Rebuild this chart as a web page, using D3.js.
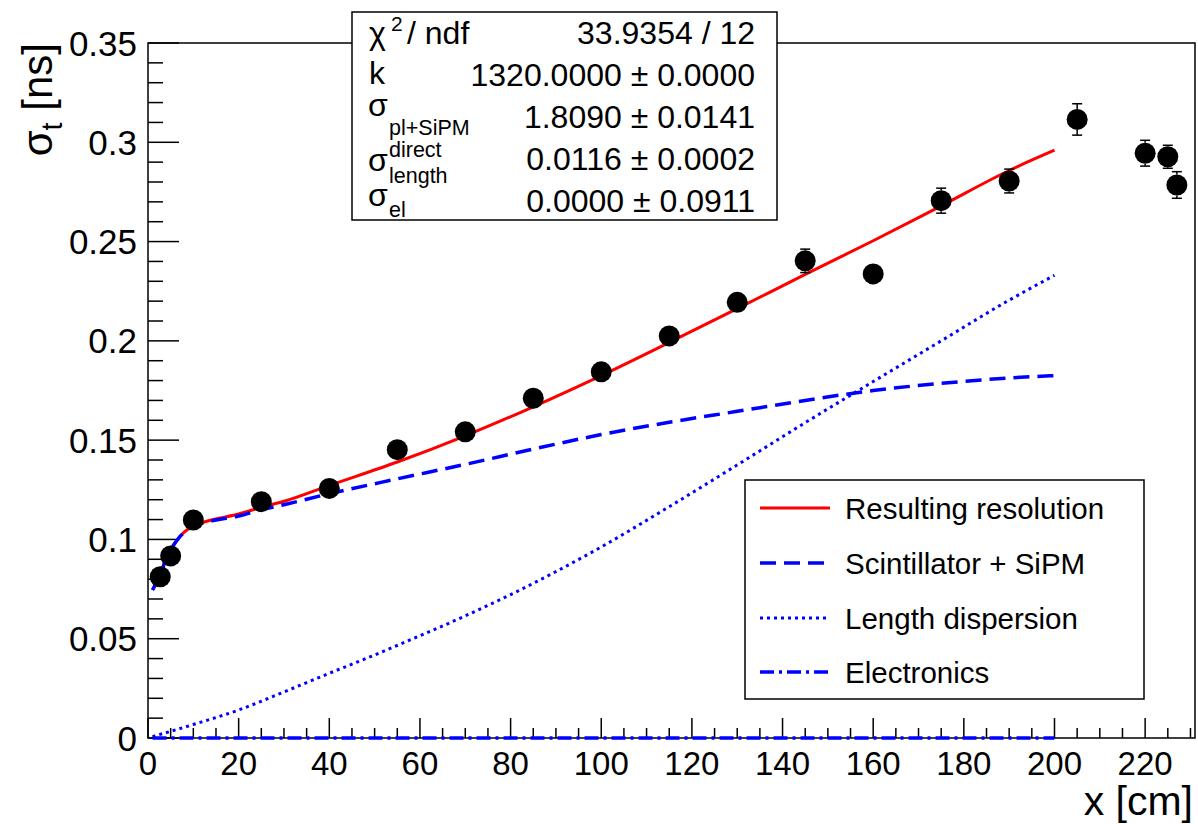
<!DOCTYPE html>
<html>
<head>
<meta charset="utf-8">
<script src="https://cdn.jsdelivr.net/npm/d3@7"></script>
<style>
  body { margin: 0; background: #fff; }
  svg { font-family: "Liberation Sans", Arial, Helvetica, sans-serif; }
</style>
</head>
<body>
<svg id="chart" width="1198" height="824"></svg>
<script>
// measured points
const pointX = [2.7, 5, 10, 25, 40, 55, 70, 85, 100, 115, 130, 145, 160, 175, 190, 205, 220, 225, 227];
const pointY = [0.0812, 0.0917, 0.1098, 0.119, 0.1257, 0.1452, 0.1542, 0.1711, 0.1844, 0.2025, 0.2194, 0.2403, 0.2337, 0.2706, 0.2805, 0.3115, 0.2945, 0.2927, 0.2785];
const pointErr = [0.003, 0.003, 0.003, 0.003, 0.003, 0.004, 0.004, 0.004, 0.004, 0.004, 0.004, 0.0059, 0.004, 0.0063, 0.006, 0.0079, 0.0065, 0.0058, 0.0067];

// fit curves
const fitX = [1, 2, 3, 4, 5, 7, 9, 12, 15, 20, 25, 30, 40, 55, 70, 85, 100, 115, 130, 145, 160, 175, 190, 200];
const resTotal = [0.0745, 0.079, 0.084, 0.0905, 0.0948, 0.1014, 0.1055, 0.1085, 0.1103, 0.1128, 0.1162, 0.1192, 0.1272, 0.139, 0.1522, 0.1668, 0.1825, 0.1992, 0.2162, 0.2335, 0.2504, 0.268, 0.2858, 0.296];
const resScint = [0.0745, 0.079, 0.084, 0.0905, 0.0948, 0.1013, 0.1053, 0.1083, 0.1098, 0.1118, 0.115, 0.1175, 0.123, 0.1305, 0.1378, 0.1455, 0.1528, 0.159, 0.1645, 0.17, 0.175, 0.1786, 0.1813, 0.1825];
const lenX = [1, 10, 20, 30, 40, 50, 60, 70, 80, 90, 100, 115, 130, 145, 160, 175, 190, 200];
const resLength = [0.0007, 0.0068, 0.0141, 0.0232, 0.0326, 0.0418, 0.0515, 0.0615, 0.0722, 0.0838, 0.0962, 0.1165, 0.1375, 0.1588, 0.1795, 0.2, 0.2205, 0.233];
const elX = [1, 200];
const resElec = [0, 0];

const xTicks = [0, 20, 40, 60, 80, 100, 120, 140, 160, 180, 200, 220];
const yTicks = [0, 0.05, 0.1, 0.15, 0.2, 0.25, 0.3, 0.35];

const statsValues = ["33.9354 / 12", "1320.0000 \u00b1 0.0000", "1.8090 \u00b1 0.0141", "0.0116 \u00b1 0.0002", "0.0000 \u00b1 0.0911"];
const legendNames = ["Resulting resolution", "Scintillator + SiPM", "Length dispersion", "Electronics"];

const svg = d3.select("#chart");
const frame = { left: 148, right: 1195, top: 43, bottom: 738 };

const x = d3.scaleLinear().domain([0, 231]).range([frame.left, frame.right]);
const y = d3.scaleLinear().domain([0, 0.35]).range([frame.bottom, frame.top]);

// frame
svg.append("rect")
  .attr("x", frame.left).attr("y", frame.top)
  .attr("width", frame.right - frame.left).attr("height", frame.bottom - frame.top)
  .attr("fill", "none").attr("stroke", "#000").attr("stroke-width", 1.5);

// y axis ticks (inward)
const yMinor = d3.range(0, 0.3501, 0.01);
svg.append("g").selectAll("line")
  .data(yMinor)
  .join("line")
    .attr("x1", frame.left)
    .attr("x2", (d, i) => frame.left + (i % 5 === 0 ? 31 : 15))
    .attr("y1", d => y(d)).attr("y2", d => y(d))
    .attr("stroke", "#000").attr("stroke-width", 1.5);

svg.append("g")
    .attr("font-size", 35)
    .attr("text-anchor", "end")
  .selectAll("text")
  .data(yTicks)
  .join("text")
    .attr("x", 137)
    .attr("y", d => y(d))
    .attr("dy", "0.36em")
    .text(d => d === 0 ? "0" : String(d));

// x axis ticks (inward)
const xMinor = d3.range(0, 231, 5);
svg.append("g").selectAll("line")
  .data(xMinor)
  .join("line")
    .attr("x1", d => x(d)).attr("x2", d => x(d))
    .attr("y1", frame.bottom)
    .attr("y2", d => frame.bottom - (d % 20 === 0 ? 20 : 10))
    .attr("stroke", "#000").attr("stroke-width", 1.5);

svg.append("g")
    .attr("font-size", 33)
    .attr("text-anchor", "middle")
  .selectAll("text")
  .data(xTicks)
  .join("text")
    .attr("x", d => x(d))
    .attr("y", 775)
    .text(d => d);

// axis titles
svg.append("text")
  .attr("x", 1193).attr("y", 815)
  .attr("text-anchor", "end")
  .attr("font-size", 41)
  .text("x [cm]");

const yTitle = svg.append("text")
  .attr("transform", "translate(52,43) rotate(-90)")
  .attr("text-anchor", "end")
  .attr("font-size", 42);
yTitle.append("tspan").text("\u03c3");
yTitle.append("tspan").attr("font-size", 29).attr("dy", 10).text("t");
yTitle.append("tspan").attr("dy", -10).text(" [ns]");

// curves
const line = d3.line().x(d => x(d[0])).y(d => y(d[1])).curve(d3.curveMonotoneX);
const curves = [
  { xs: fitX, ys: resTotal, color: "#ff0000", dash: null, w: 3 },
  { xs: fitX, ys: resScint, color: "#0000ff", dash: "16,8", w: 3.5 },
  { xs: lenX, ys: resLength, color: "#0000ff", dash: "3,4", w: 3 },
  { xs: elX, ys: resElec, color: "#0000ff", dash: "14,5,3,5", w: 3.5 }
];
svg.append("g").selectAll("path")
  .data([curves[2], curves[3], curves[0], curves[1]])
  .join("path")
    .attr("d", c => line(c.xs.map((v, i) => [v, c.ys[i]])))
    .attr("fill", "none")
    .attr("stroke", c => c.color)
    .attr("stroke-width", c => c.w)
    .attr("stroke-dasharray", c => c.dash);

// points with error bars
const r = 10.5;
const pts = pointX.map((v, i) => ({ x: v, y: pointY[i], e: pointErr[i] }));
const gp = svg.append("g");
pts.forEach(p => {
  const cx = x(p.x), cy = y(p.y), eh = y(p.y - p.e) - cy;
  if (eh > r) {
    [[cy - eh, cy - r], [cy + r, cy + eh]].forEach(s => {
      gp.append("line").attr("x1", cx).attr("x2", cx).attr("y1", s[0]).attr("y2", s[1])
        .attr("stroke", "#000").attr("stroke-width", 1.5);
    });
    [cy - eh, cy + eh].forEach(v => {
      gp.append("line").attr("x1", cx - 5).attr("x2", cx + 5).attr("y1", v).attr("y2", v)
        .attr("stroke", "#000").attr("stroke-width", 1.5);
    });
  }
});
gp.selectAll("circle")
  .data(pts)
  .join("circle")
    .attr("cx", d => x(d.x)).attr("cy", d => y(d.y)).attr("r", r)
    .attr("fill", "#000");

// stats box
const sb = svg.append("g");
sb.append("rect")
  .attr("x", 352).attr("y", 12).attr("width", 425).attr("height", 208)
  .attr("fill", "#fff").attr("stroke", "#000").attr("stroke-width", 1.5);
const baselines = [44, 86, 128, 170, 212];
sb.selectAll("text.val")
  .data(statsValues)
  .join("text")
    .attr("class", "val")
    .attr("x", 755).attr("y", (d, i) => baselines[i])
    .attr("text-anchor", "end")
    .attr("font-size", 32)
    .text(d => d);

// labels with sub/superscripts
const lab = (tx, ty, size, s) => sb.append("text").attr("x", tx).attr("y", ty).attr("font-size", size).text(s);
lab(369, 44, 32, "\u03c7");
lab(391, 31, 21, "2");
lab(407, 44, 32, "/ ndf");
lab(369, 84, 32, "k");
lab(368, 116, 32, "\u03c3");
lab(389, 135, 21.5, "pl+SiPM");
lab(368, 171, 32, "\u03c3");
lab(389, 157, 21.5, "direct");
lab(389, 183, 21.5, "length");
lab(368, 206, 32, "\u03c3");
lab(389, 217, 21.5, "el");

// legend
const lg = svg.append("g");
lg.append("rect")
  .attr("x", 745).attr("y", 480).attr("width", 399).attr("height", 219)
  .attr("fill", "#fff").attr("stroke", "#000").attr("stroke-width", 1.5);
const rowsY = [508, 563, 618, 672];
legendNames.forEach((name, i) => {
  const c = curves[i];
  lg.append("line")
    .attr("x1", 760).attr("x2", 830).attr("y1", rowsY[i]).attr("y2", rowsY[i])
    .attr("stroke", c.color).attr("stroke-width", c.w)
    .attr("stroke-dasharray", c.dash);
  lg.append("text")
    .attr("x", 845).attr("y", rowsY[i]).attr("dy", "0.36em")
    .attr("font-size", 29.5)
    .text(name);
});
</script>
</body>
</html>
